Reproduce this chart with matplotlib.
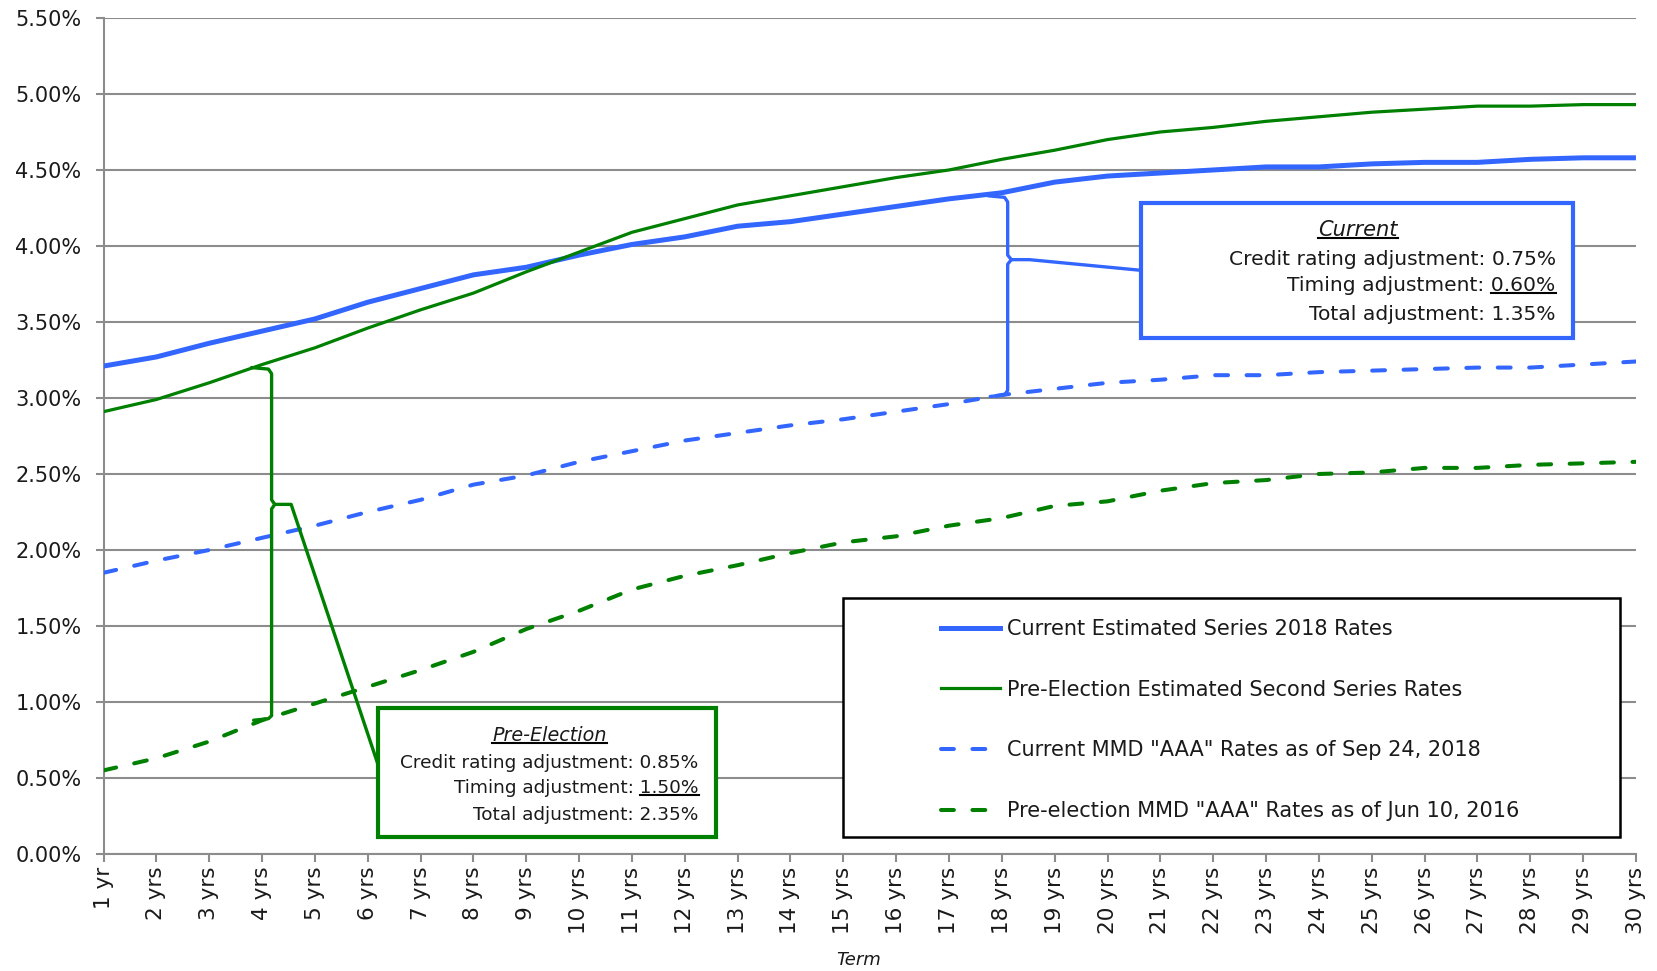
import numpy as np
import matplotlib.pyplot as plt
from matplotlib.lines import Line2D
from matplotlib.patches import Rectangle
from matplotlib.ticker import FuncFormatter

# Term labels and rates (%)
terms = ["1 yr", "2 yrs", "3 yrs", "4 yrs", "5 yrs", "6 yrs", "7 yrs", "8 yrs",
         "9 yrs", "10 yrs", "11 yrs", "12 yrs", "13 yrs", "14 yrs", "15 yrs",
         "16 yrs", "17 yrs", "18 yrs", "19 yrs", "20 yrs", "21 yrs", "22 yrs",
         "23 yrs", "24 yrs", "25 yrs", "26 yrs", "27 yrs", "28 yrs", "29 yrs",
         "30 yrs"]

current_est = [3.21, 3.27, 3.36, 3.44, 3.52, 3.63, 3.72, 3.81, 3.86, 3.94,
               4.01, 4.06, 4.13, 4.16, 4.21, 4.26, 4.31, 4.35, 4.42, 4.46,
               4.48, 4.50, 4.52, 4.52, 4.54, 4.55, 4.55, 4.57, 4.58, 4.58]
pre_est = [2.91, 2.99, 3.10, 3.22, 3.33, 3.46, 3.58, 3.69, 3.83, 3.96,
           4.09, 4.18, 4.27, 4.33, 4.39, 4.45, 4.50, 4.57, 4.63, 4.70,
           4.75, 4.78, 4.82, 4.85, 4.88, 4.90, 4.92, 4.92, 4.93, 4.93]
current_mmd = [1.85, 1.93, 2.00, 2.08, 2.16, 2.25, 2.33, 2.43, 2.49, 2.58,
               2.65, 2.72, 2.77, 2.82, 2.86, 2.91, 2.96, 3.02, 3.06, 3.10,
               3.12, 3.15, 3.15, 3.17, 3.18, 3.19, 3.20, 3.20, 3.22, 3.24]
pre_mmd = [0.55, 0.63, 0.74, 0.88, 0.99, 1.10, 1.21, 1.33, 1.48, 1.60,
           1.74, 1.83, 1.90, 1.98, 2.05, 2.09, 2.16, 2.21, 2.29, 2.32,
           2.39, 2.44, 2.46, 2.50, 2.51, 2.54, 2.54, 2.56, 2.57, 2.58]

series_labels = ["Current Estimated Series 2018 Rates",
                 "Pre-Election Estimated Second Series Rates",
                 'Current MMD "AAA" Rates as of Sep 24, 2018',
                 'Pre-election MMD "AAA" Rates as of Jun 10, 2016']

current_lines = ["Credit rating adjustment: 0.75%",
                 "Timing adjustment: 0.60%",
                 "Total adjustment: 1.35%"]
pre_lines = ["Credit rating adjustment: 0.85%",
             "Timing adjustment: 1.50%",
             "Total adjustment: 2.35%"]

BLUE = "#3366ff"
GREEN = "#008000"
GRID = "#8c8c8c"
INK = "#1a1a1a"
DASH = (3.2, 4.6)

fig = plt.figure(figsize=(16.57, 9.71), dpi=100)
ax = fig.add_axes([0.0625, 0.1205, 0.9248, 0.861])

x = np.arange(len(terms))
ax.plot(x, current_est, color=BLUE, lw=3.6, zorder=3, solid_capstyle="butt")
ax.plot(x, pre_est, color=GREEN, lw=2.3, zorder=3)
ax.plot(x, current_mmd, color=BLUE, lw=2.9, dashes=DASH,
        dash_capstyle="round", zorder=3)
ax.plot(x, pre_mmd, color=GREEN, lw=2.9, dashes=DASH,
        dash_capstyle="round", zorder=3)

ax.set_xlim(0, len(terms) - 1)
ax.set_ylim(0, 5.5)
ax.set_yticks(np.arange(0, 5.51, 0.5))
ax.yaxis.set_major_formatter(FuncFormatter(lambda v, p: "%.2f%%" % v))
ax.set_xticks(x)
ax.set_xticklabels(terms, rotation=90, fontsize=15.5, color=INK)
ax.tick_params(axis="y", labelsize=15, colors=GRID, labelcolor=INK,
               length=6, width=1.5, pad=10)
ax.tick_params(axis="x", colors=GRID, labelcolor=INK, length=6, width=1.5,
               pad=3)
ax.grid(axis="y", color=GRID, lw=1.5)
ax.set_axisbelow(True)
for s in ["top", "right"]:
    ax.spines[s].set_visible(False)
for s in ["left", "bottom"]:
    ax.spines[s].set_color(GRID)
    ax.spines[s].set_linewidth(1.5)
ax.set_xlabel("Term", fontsize=13, style="italic", color=INK)
ax.xaxis.set_label_coords(0.493, -0.1268)
ax.xaxis.label.set_verticalalignment("center")

# brackets
bk = dict(color=BLUE, lw=2.4, zorder=4, clip_on=False,
          solid_joinstyle="round", solid_capstyle="round")
ax.plot([16.74, 17.05, 17.11, 17.11, 17.18], [4.33, 4.32, 4.29, 3.94, 3.91], **bk)
ax.plot([17.18, 17.11, 17.11, 17.05, 16.78], [3.91, 3.88, 3.05, 3.02, 3.01], **bk)
ax.plot([17.18, 17.52, 19.63], [3.91, 3.91, 3.84], **bk)

bk["color"] = GREEN
ax.plot([2.80, 3.12, 3.18, 3.18, 3.24], [3.20, 3.19, 3.16, 2.33, 2.30], **bk)
ax.plot([3.24, 3.18, 3.18, 3.12, 2.84], [2.30, 2.27, 0.91, 0.89, 0.88], **bk)
ax.plot([3.24, 3.55, 5.24], [2.30, 2.30, 0.54], **bk)

# annotation boxes
ax.add_patch(Rectangle((19.63, 3.395), 27.81 - 19.63, 4.283 - 3.395,
                       fc="white", ec=BLUE, lw=3, zorder=5))
ax.add_patch(Rectangle((5.19, 0.112), 11.59 - 5.19, 0.961 - 0.112,
                       fc="white", ec=GREEN, lw=3, zorder=5))

underlined = []
temp = []

def box_text(cx, cy, title, rx, ys, lines, size):
    t = ax.text(cx, cy, title, ha="center", va="center", style="italic",
                fontsize=size + 0.5, color=INK, zorder=6)
    underlined.append(t)
    for yv, line in zip(ys, lines):
        ax.text(rx, yv, line, ha="right", va="center", fontsize=size,
                color=INK, zorder=6)
    # invisible probe, only used to measure the underlined value
    probe = ax.text(rx, ys[1], lines[1].split(": ")[1], ha="right",
                    va="center", fontsize=size, color="none")
    underlined.append(probe)
    temp.append(probe)

box_text(23.74, 4.105, "Current", 27.48, [3.914, 3.737, 3.546],
         current_lines, 14.6)
box_text(8.44, 0.780, "Pre-Election", 11.26, [0.599, 0.434, 0.257],
         pre_lines, 13.3)

# legend with its own frame
ax.add_patch(Rectangle((0.4825, 0.0203), 0.507, 0.286, transform=ax.transAxes,
                       fc="white", ec="black", lw=1.8, zorder=5, clip_on=False))
handles = [Line2D([], [], color=BLUE, lw=3.6),
           Line2D([], [], color=GREEN, lw=2.3),
           Line2D([], [], color=BLUE, lw=2.9, dashes=DASH,
                  dash_capstyle="round"),
           Line2D([], [], color=GREEN, lw=2.9, dashes=DASH,
                  dash_capstyle="round")]
leg = ax.legend(handles, series_labels, loc="upper left",
                bbox_to_anchor=(0.5465, 0.281), frameon=False, fontsize=15,
                handlelength=2.85, handletextpad=0.3, labelspacing=1.95,
                borderpad=0, borderaxespad=0)
leg.set_zorder(7)
for tx in leg.get_texts():
    tx.set_color(INK)

# underline titles and timing values
fig.canvas.draw()
r = fig.canvas.get_renderer()
inv = fig.transFigure.inverted()
for t in underlined:
    bb = t.get_window_extent(r)
    (x0, y0), (x1, _) = inv.transform([(bb.x0, bb.y0 + 2), (bb.x1, bb.y0 + 2)])
    fig.add_artist(Line2D([x0, x1], [y0, y0], color="black", lw=1.5,
                          transform=fig.transFigure, zorder=8))
for t in temp:
    t.remove()

fig.savefig("out.png", dpi=100)
